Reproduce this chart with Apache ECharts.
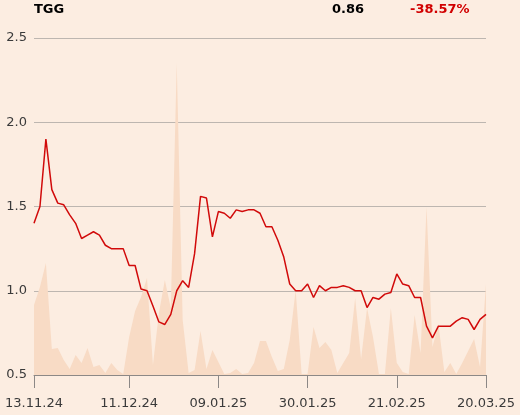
<!DOCTYPE html>
<html>
<head>
<meta charset="utf-8">
<script src="https://cdn.jsdelivr.net/npm/echarts@6/dist/echarts.min.js"></script>
<style>
html,body{margin:0;padding:0;background:#fcede1;}
#chart{width:520px;height:415px;}
</style>
</head>
<body>
<div id="chart"></div>
<script>
const dates = ["13.11.24","14.11.24","15.11.24","18.11.24","19.11.24","20.11.24","21.11.24","22.11.24","25.11.24","26.11.24",
"27.11.24","28.11.24","29.11.24","02.12.24","03.12.24","04.12.24","11.12.24","12.12.24","13.12.24","16.12.24",
"17.12.24","18.12.24","19.12.24","20.12.24","23.12.24","27.12.24","30.12.24","02.01.25","03.01.25","06.01.25",
"08.01.25","09.01.25","10.01.25","13.01.25","14.01.25","15.01.25","16.01.25","17.01.25","20.01.25","21.01.25",
"22.01.25","23.01.25","24.01.25","27.01.25","28.01.25","29.01.25","30.01.25","31.01.25","03.02.25","04.02.25",
"05.02.25","06.02.25","07.02.25","10.02.25","11.02.25","12.02.25","13.02.25","14.02.25","17.02.25","18.02.25",
"20.02.25","21.02.25","24.02.25","25.02.25","26.02.25","27.02.25","28.02.25","03.03.25","04.03.25","05.03.25",
"06.03.25","07.03.25","10.03.25","11.03.25","12.03.25","13.03.25","20.03.25"];
const tickLabels = ["13.11.24","11.12.24","09.01.25","30.01.25","21.02.25","20.03.25"];
const tickIndices = [0,16,31,46,61,76];
const prices = [1.40,1.50,1.90,1.60,1.52,1.51,1.45,1.40,1.31,1.33,
1.35,1.33,1.27,1.25,1.25,1.25,1.15,1.15,1.01,1.00,
0.91,0.815,0.80,0.86,1.00,1.06,1.02,1.22,1.56,1.55,
1.32,1.47,1.46,1.43,1.48,1.47,1.48,1.48,1.46,1.38,
1.38,1.30,1.20,1.04,1.00,1.00,1.04,0.96,1.03,1.00,
1.02,1.02,1.03,1.02,1.00,1.00,0.90,0.96,0.95,0.98,
0.99,1.10,1.04,1.03,0.96,0.96,0.79,0.72,0.79,0.79,
0.79,0.82,0.84,0.83,0.77,0.83,0.86];
const volumes = [70,88,112,26,27,15,6,20,12,27,
8,10,2,12,5,1,38,64,78,97,
10,62,95,67,312,55,2,5,44,6,
25,13,1,2,6,1,2,12,34,34,
18,4,6,35,85,1,1,48,27,33,
25,2,12,22,77,16,67,38,1,1,
67,12,3,1,60,22,168,28,51,3,
12,1,12,24,36,8,91];
const headerName = "TGG";
const headerPrice = "0.86";
const headerChange = "-38.57%";

const chart = echarts.init(document.getElementById('chart'), null, {renderer:'canvas'});
const font = 'DejaVu Sans';
const tickFn = (i) => tickIndices.indexOf(i) >= 0;
chart.setOption({
  backgroundColor:'#fcede1',
  animation:false,
  textStyle:{fontFamily:font},
  grid:{left:34,right:34,top:38,bottom:40,containLabel:false},
  graphic:[
    {type:'text',left:34,top:3,style:{text:headerName,font:'bold 13px "DejaVu Sans"',fill:'#000'}},
    {type:'text',left:332,top:3,style:{text:headerPrice,font:'bold 13px "DejaVu Sans"',fill:'#000'}},
    {type:'text',left:410,top:3,style:{text:headerChange,font:'bold 13px "DejaVu Sans"',fill:'#d10000'}}
  ],
  xAxis:{
    type:'category',
    data:dates,
    boundaryGap:false,
    axisLine:{show:true,lineStyle:{color:'#8c8886',width:1}},
    axisTick:{show:true,interval:tickFn,length:13,lineStyle:{color:'#8c8886'}},
    axisLabel:{interval:tickFn,margin:22,fontSize:13,color:'#3a3a3a',fontFamily:font},
    splitLine:{show:false}
  },
  yAxis:[{
    type:'value',min:0.5,max:2.5,interval:0.5,
    axisLine:{show:false},axisTick:{show:false},
    axisLabel:{margin:7,fontSize:13,color:'#3a3a3a',fontFamily:font,formatter:(v)=>v.toFixed(1)},
    splitLine:{show:true,lineStyle:{color:'#bdb6b0',width:1}}
  },{
    type:'value',min:0,max:337,show:false,splitLine:{show:false}
  }],
  series:[{
    type:'line',yAxisIndex:1,data:volumes,symbol:'none',
    lineStyle:{width:0},areaStyle:{color:'#f8dbc5',opacity:1},z:1
  },{
    type:'line',yAxisIndex:0,data:prices,symbol:'none',
    lineStyle:{width:1.5,color:'#d10a0a'},z:3
  }]
});
</script>
</body>
</html>
